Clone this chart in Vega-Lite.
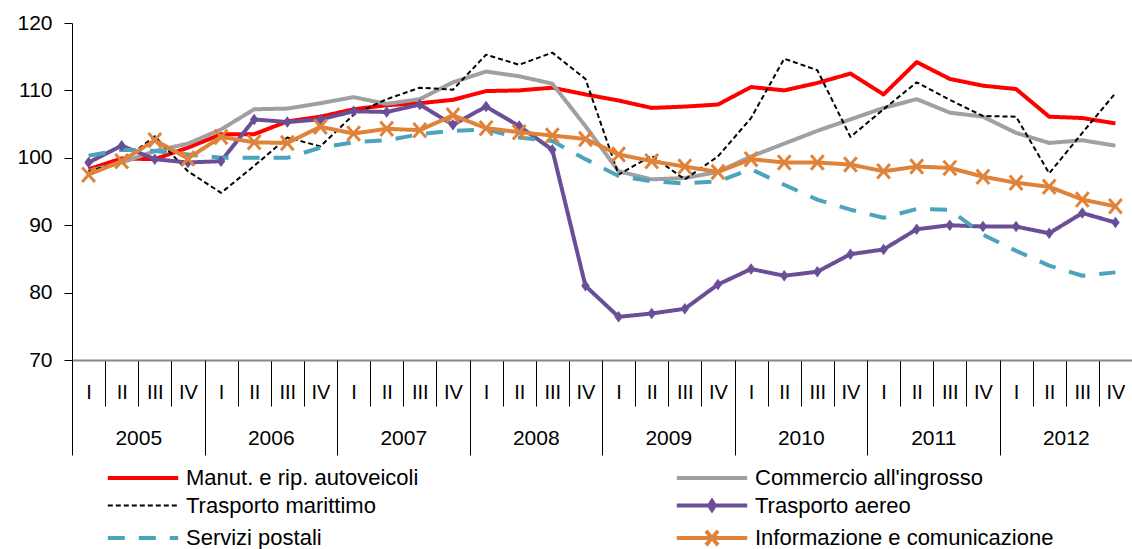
{
  "$schema": "https://vega.github.io/schema/vega-lite/v6.json",
  "autosize": {"type": "none"},
  "padding": {"left": 72, "top": 23, "right": 0, "bottom": 189},
  "width": 1060,
  "height": 337,
  "config": {
    "font": "Liberation Sans",
    "view": {"stroke": null},
    "axis": {"labelFont": "Liberation Sans", "labelColor": "#000", "grid": false}
  },
  "layer": [
    {
      "data": {
        "values": [
          {"period": "2005 I", "man": 98.3, "com": 98.0, "mar": 98.0, "aer": 99.3, "pos": 100.3, "inf": 97.5},
          {"period": "2005 II", "man": 99.9, "com": 99.3, "mar": 99.4, "aer": 101.8, "pos": 101.2, "inf": 99.5},
          {"period": "2005 III", "man": 99.8, "com": 101.0, "mar": 103.2, "aer": 99.8, "pos": 101.0, "inf": 102.6},
          {"period": "2005 IV", "man": 101.5, "com": 102.1, "mar": 98.0, "aer": 99.3, "pos": 100.5, "inf": 99.9},
          {"period": "2006 I", "man": 103.5, "com": 104.2, "mar": 94.8, "aer": 99.5, "pos": 100.0, "inf": 103.1},
          {"period": "2006 II", "man": 103.5, "com": 107.2, "mar": 98.8, "aer": 105.7, "pos": 100.0, "inf": 102.3},
          {"period": "2006 III", "man": 105.4, "com": 107.3, "mar": 103.0, "aer": 105.3, "pos": 100.0, "inf": 102.2},
          {"period": "2006 IV", "man": 106.1, "com": 108.1, "mar": 101.7, "aer": 105.7, "pos": 101.5, "inf": 104.6},
          {"period": "2007 I", "man": 107.2, "com": 109.0, "mar": 106.4, "aer": 106.9, "pos": 102.3, "inf": 103.6},
          {"period": "2007 II", "man": 107.8, "com": 108.0, "mar": 108.7, "aer": 106.8, "pos": 102.6, "inf": 104.3},
          {"period": "2007 III", "man": 108.1, "com": 108.7, "mar": 110.4, "aer": 107.9, "pos": 103.5, "inf": 104.1},
          {"period": "2007 IV", "man": 108.6, "com": 111.2, "mar": 110.1, "aer": 104.9, "pos": 104.0, "inf": 106.3},
          {"period": "2008 I", "man": 109.9, "com": 112.8, "mar": 115.3, "aer": 107.6, "pos": 104.2, "inf": 104.4},
          {"period": "2008 II", "man": 110.0, "com": 112.1, "mar": 113.8, "aer": 104.7, "pos": 103.0, "inf": 103.8},
          {"period": "2008 III", "man": 110.4, "com": 111.0, "mar": 115.6, "aer": 101.2, "pos": 102.5, "inf": 103.3},
          {"period": "2008 IV", "man": 109.4, "com": 104.7, "mar": 111.7, "aer": 81.0, "pos": 99.8, "inf": 102.8},
          {"period": "2009 I", "man": 108.5, "com": 98.0, "mar": 97.5, "aer": 76.4, "pos": 97.3, "inf": 100.5},
          {"period": "2009 II", "man": 107.4, "com": 96.8, "mar": 100.3, "aer": 76.9, "pos": 96.5, "inf": 99.5},
          {"period": "2009 III", "man": 107.6, "com": 97.0, "mar": 96.8, "aer": 77.6, "pos": 96.2, "inf": 98.7},
          {"period": "2009 IV", "man": 107.9, "com": 97.9, "mar": 100.2, "aer": 81.2, "pos": 96.5, "inf": 97.9},
          {"period": "2010 I", "man": 110.5, "com": 100.2, "mar": 105.9, "aer": 83.5, "pos": 98.3, "inf": 99.8},
          {"period": "2010 II", "man": 110.0, "com": 102.1, "mar": 114.7, "aer": 82.5, "pos": 96.0, "inf": 99.3},
          {"period": "2010 III", "man": 111.1, "com": 104.0, "mar": 113.0, "aer": 83.1, "pos": 93.8, "inf": 99.3},
          {"period": "2010 IV", "man": 112.5, "com": 105.7, "mar": 103.1, "aer": 85.7, "pos": 92.3, "inf": 99.0},
          {"period": "2011 I", "man": 109.4, "com": 107.4, "mar": 107.2, "aer": 86.4, "pos": 91.1, "inf": 98.0},
          {"period": "2011 II", "man": 114.2, "com": 108.7, "mar": 111.2, "aer": 89.4, "pos": 92.4, "inf": 98.7},
          {"period": "2011 III", "man": 111.7, "com": 106.7, "mar": 108.6, "aer": 90.0, "pos": 92.3, "inf": 98.5},
          {"period": "2011 IV", "man": 110.7, "com": 106.1, "mar": 106.2, "aer": 89.8, "pos": 88.6, "inf": 97.2},
          {"period": "2012 I", "man": 110.2, "com": 103.7, "mar": 106.1, "aer": 89.8, "pos": 86.2, "inf": 96.3},
          {"period": "2012 II", "man": 106.1, "com": 102.2, "mar": 97.7, "aer": 88.8, "pos": 84.0, "inf": 95.7},
          {"period": "2012 III", "man": 105.9, "com": 102.6, "mar": 103.7, "aer": 91.8, "pos": 82.5, "inf": 93.8},
          {"period": "2012 IV", "man": 105.1, "com": 101.8, "mar": 109.6, "aer": 90.4, "pos": 83.0, "inf": 92.8}
        ]
      },
      "transform": [
        {"fold": ["man", "com", "mar", "aer", "pos", "inf"], "as": ["key", "value"]}
      ],
      "encoding": {
        "x": {
          "field": "period", "type": "ordinal",
          "scale": {"type": "band", "paddingInner": 0, "paddingOuter": 0},
          "axis": {
            "orient": "bottom", "title": null, "tickBand": "extent",
            "domain": true, "domainColor": "#868686", "domainWidth": 2,
            "ticks": true, "tickSize": 46, "tickColor": "#000", "tickWidth": 1,
            "labelExpr": "split(datum.label, ' ')[1]",
            "labelAngle": 0, "labelOverlap": false, "labelBaseline": "middle",
            "labelPadding": -14, "labelFontSize": 20
          }
        },
        "y": {
          "field": "value", "type": "quantitative",
          "scale": {"domain": [70, 120], "nice": false, "zero": false},
          "axis": {
            "title": null, "values": [70, 80, 90, 100, 110, 120],
            "domainColor": "#000", "domainWidth": 1,
            "tickColor": "#000", "tickSize": 8, "labelPadding": 12, "labelFontSize": 21
          }
        }
      },
      "layer": [
        {
          "mark": {"type": "line", "strokeCap": "butt", "strokeJoin": "round"},
          "encoding": {
            "color": {
              "field": "key", "type": "nominal",
              "scale": {
                "domain": ["man", "com", "mar", "aer", "pos", "inf"],
                "range": ["#FF0000", "#A0A0A0", "#000000", "#6A4E96", "#4BA3BC", "#E0833A"]
              },
              "legend": {
                "title": null, "orient": "none", "legendX": 60, "legendY": 444,
                "direction": "horizontal", "columns": 2, "columnPadding": 249, "rowPadding": 3.5, "padding": 0,
                "symbolType": "M-3.2,0L3.2,0", "symbolSize": 484, "symbolStrokeWidth": 4,
                "labelFontSize": 22, "labelOffset": 32, "labelColor": "#000", "labelLimit": 500,
                "labelFont": "Liberation Sans",
                "labelExpr": "{'man': 'Manut. e rip. autoveicoli', 'com': \"Commercio all'ingrosso\", 'mar': 'Trasporto marittimo', 'aer': 'Trasporto aereo', 'pos': 'Servizi postali', 'inf': 'Informazione e comunicazione'}[datum.label]",
                "encode": {
                  "symbols": {
                    "update": {
                      "shape": {"signal": "datum.value === 'aer' ? 'M-3.2,0L3.2,0M0,-0.4L0.26,0L0,0.4L-0.26,0Z' : datum.value === 'inf' ? 'M-3.2,0L3.2,0M-0.55,-0.65L0.55,0.65M-0.55,0.65L0.55,-0.65' : 'M-3.2,0L3.2,0'"},
                      "fill": {"signal": "datum.value === 'aer' ? '#6A4E96' : 'transparent'"},
                      "strokeWidth": {"signal": "datum.value === 'mar' ? 2 : 4"}
                    }
                  }
                }
              }
            },
            "strokeDash": {
              "field": "key", "type": "nominal",
              "scale": {
                "domain": ["man", "com", "mar", "aer", "pos", "inf"],
                "range": [[1, 0], [1, 0], [5, 3], [1, 0], [17, 14], [1, 0]]
              },
              "legend": {"title": null}
            },
            "strokeWidth": {
              "condition": {"test": "datum.key === 'mar'", "value": 2},
              "value": 4
            }
          }
        },
        {
          "transform": [{"filter": "datum.key === 'aer'"}],
          "mark": {"type": "point", "shape": "M0,-1.15L0.85,0L0,1.15L-0.85,0Z", "filled": true, "size": 100, "color": "#6A4E96", "opacity": 1}
        },
        {
          "transform": [{"filter": "datum.key === 'inf'"}],
          "mark": {"type": "point", "shape": "M-1,-1.15L1,1.15M-1,1.15L1,-1.15", "filled": false, "size": 160, "color": "#E0833A", "strokeWidth": 3, "opacity": 1}
        }
      ]
    },
    {
      "data": {
        "values": [
          {"year": "2005"}, {"year": "2006"}, {"year": "2007"}, {"year": "2008"},
          {"year": "2009"}, {"year": "2010"}, {"year": "2011"}, {"year": "2012"}
        ]
      },
      "mark": {"type": "point", "opacity": 0},
      "encoding": {
        "x": {
          "field": "year", "type": "ordinal",
          "scale": {"type": "band", "paddingInner": 0, "paddingOuter": 0},
          "axis": {
            "orient": "bottom", "title": null, "domain": false, "tickBand": "extent",
            "ticks": true, "tickSize": 95, "tickColor": "#000", "tickWidth": 1,
            "labelAngle": 0, "labelOverlap": false, "labelBaseline": "middle",
            "labelPadding": -17, "labelFontSize": 21
          }
        }
      }
    }
  ],
  "resolve": {"scale": {"x": "independent"}}
}
